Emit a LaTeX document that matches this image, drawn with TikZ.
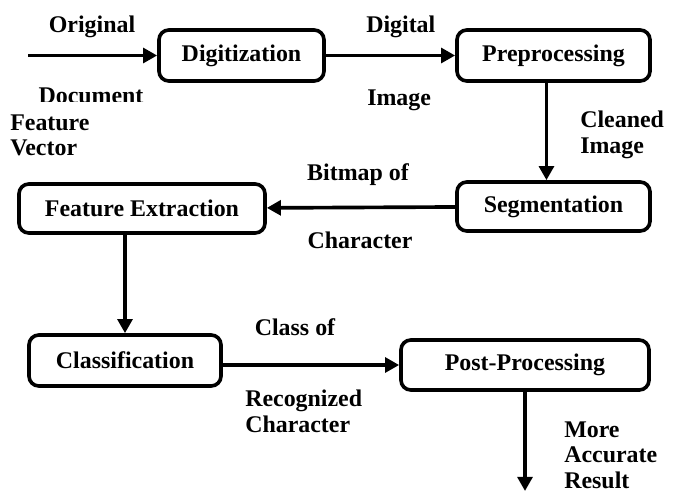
\documentclass[tikz,border=0pt]{standalone}
\usepackage{fontspec}
\setmainfont{Liberation Serif}
\usepackage{tikz}
\usetikzlibrary{arrows.meta, positioning, calc}

\tikzset{
	stage/.style={draw, rounded corners=7pt, line width=2.6pt, inner sep=0pt, align=center},
	flow/.style={line width=2.6pt, -{Triangle[length=10pt,width=10.5pt]}},
	lbl/.style={inner sep=0pt, align=left},
}

\begin{document}
\begin{tikzpicture}[x=0.025cm, y=-0.025cm, font=\fontsize{17}{17.8}\selectfont\bfseries]
		\useasboundingbox (0,0) rectangle (678,493);
		
		% edge labels (Document is partly hidden behind the Feature Vector label)
		% multi-line labels sit on the baseline of their last line
		\node[lbl, anchor=base] (orig) at (92,32) {Original};
		\node[lbl, anchor=base] (doc) at (91,103) {Document};
		\node[lbl, anchor=base west, fill=white, text width=100pt, inner ysep=9pt] (fvec) at (10,130) {Feature\\Vector};
		\node[lbl, anchor=base west] (digi) at (366,32) {Digital};
		\node[lbl, anchor=base west] (img) at (367,105) {Image};
		\node[lbl, anchor=base west] (clean) at (580,153) {Cleaned\\Image};
		\node[lbl, anchor=base] (bmp) at (358,180) {Bitmap of};
		\node[lbl, anchor=base] (chr) at (360,248) {Character};
		\node[lbl, anchor=base] (clsof) at (295,335) {Class of};
		\node[lbl, anchor=base west] (recog) at (245,432) {Recognized\\Character};
		\node[lbl, anchor=base west] (res) at (564,488) {More\\Accurate\\Result};
		
		% stages
		\node[stage, minimum width=165*0.025cm, minimum height=51*0.025cm] (dig) at (241.5,55.5) {Digitization};
		\node[stage, minimum width=193*0.025cm, minimum height=51*0.025cm] (pre) at (553.5,55.5) {Preprocessing};
		\node[stage, minimum width=193*0.025cm, minimum height=49*0.025cm] (seg) at (553.5,206.5) {Segmentation};
		\node[stage, minimum width=246*0.025cm, minimum height=49*0.025cm] (fe) at (142,208.5) {Feature Extraction};
		\node[stage, minimum width=192*0.025cm, minimum height=51*0.025cm] (cls) at (125,360.5) {Classification};
		\node[stage, minimum width=248*0.025cm, minimum height=50*0.025cm] (post) at (525,365) {Post-Processing};
		
		\coordinate (in) at (28,55.5);
		\coordinate (out) at (525,491);
		
		% flow between stages
		\draw[flow] (in) -- (dig);
		\draw[flow] (dig) -- (pre);
		\draw[flow] ([xshift=-5pt]pre.south) -- ([xshift=-5pt]seg.north);
		\draw[flow] (seg) -- (fe);
		\draw[flow] (fe.south -| cls.north) -- (cls.north);
		\draw[flow] (post.west -| cls.east) -- (post.west);
		\draw[flow] (post.south) -- (out);
\end{tikzpicture}
\end{document}
